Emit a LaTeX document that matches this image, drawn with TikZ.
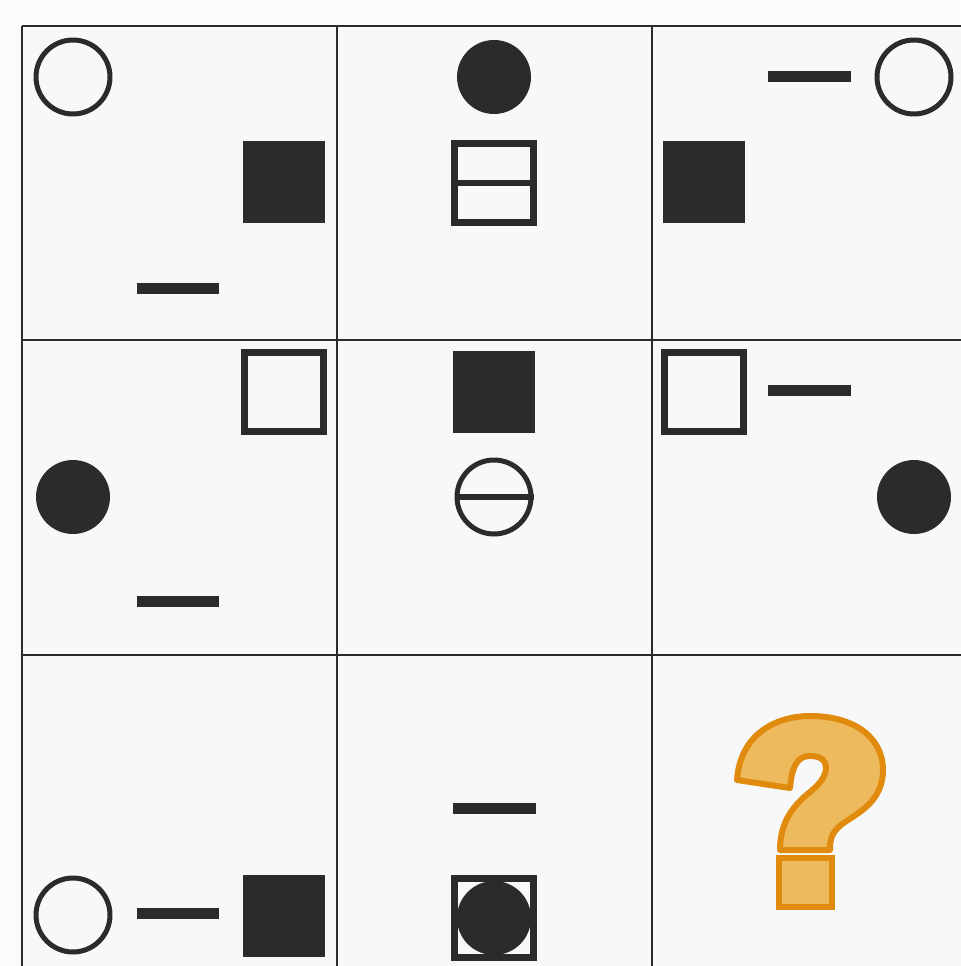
\documentclass[tikz,border=0pt]{standalone}
\definecolor{ink}{HTML}{2B2B2B}
\definecolor{paper}{HTML}{F7F8FA}
\definecolor{rim}{HTML}{FBFBFC}
\definecolor{qfill}{HTML}{EEBA5E}
\definecolor{qline}{HTML}{E08A0E}
\begin{document}
\begin{tikzpicture}[x=0.02cm, y=-0.02cm,
  ring/.style={draw=ink, circle, line width=0.1cm, minimum size=1.48cm, inner sep=0pt},
  disc/.style={fill=ink, circle, minimum size=1.48cm, inner sep=0pt},
  blk/.style={fill=ink, minimum size=1.64cm, inner sep=0pt},
  box/.style={draw=ink, line width=0.13cm, minimum size=1.58cm, inner sep=0pt},
  bar/.style={fill=ink, minimum width=1.66cm, minimum height=0.22cm, inner sep=0pt}]
  \useasboundingbox (0,0) rectangle (960,966);
  \fill[rim] (0,0) rectangle (960,966);
  \fill[paper] (22,26) rectangle (967,970);
  % grid
  \foreach \x in {22,337,652,967}
    \draw[ink, line width=0.045cm] (\x,26) -- (\x,970);
  \foreach \y in {26,340,655,970}
    \draw[ink, line width=0.045cm] (22,\y) -- (967,\y);
  % row 1
  \node[ring] (a1) at (73,77) {};
  \node[blk] (a2) at (284,182) {};
  \node[bar] (a3) at (178,288) {};
  \node[disc] (b1) at (494,77) {};
  \node[box] (b2) at (494,183) {};
  \draw[ink, line width=0.13cm] (b2.west) -- (b2.east);
  \node[bar] (c1) at (809,77) {};
  \node[ring] (c2) at (914,77) {};
  \node[blk] (c3) at (704,182) {};
  % row 2
  \node[box] (d1) at (284,392) {};
  \node[disc] (d2) at (73,497) {};
  \node[bar] (d3) at (178,601) {};
  \node[blk] (e1) at (494,392) {};
  \node[ring] (e2) at (494,497) {};
  \draw[ink, line width=0.12cm] (e2.west) -- (e2.east);
  \node[box] (f1) at (704,392) {};
  \node[bar] (f2) at (809,390) {};
  \node[disc] (f3) at (914,497) {};
  % row 3
  \node[ring] (g1) at (73,915) {};
  \node[bar] (g2) at (178,913) {};
  \node[blk] (g3) at (284,916) {};
  \node[bar] (h1) at (494,808) {};
  \node[box] (h2) at (494,918) {};
  \node[disc] (h3) at (494,918) {};
  % question mark
  \draw[qline, fill=qfill, line width=0.12cm, line join=round]
    (737,780) .. controls (740,735) and (775,716) .. (810,716)
    .. controls (855,716) and (883,738) .. (883,770)
    .. controls (883,800) and (860,812) .. (845,822)
    .. controls (832,831) and (830,838) .. (830,850)
    -- (780,850)
    .. controls (780,825) and (790,808) .. (810,792)
    .. controls (822,782) and (826,775) .. (826,767)
    .. controls (826,760) and (820,756) .. (810,756)
    .. controls (798,756) and (792,765) .. (790,788) -- cycle;
  \draw[qline, fill=qfill, line width=0.12cm] (779,858) rectangle (832,907);
\end{tikzpicture}
\end{document}
